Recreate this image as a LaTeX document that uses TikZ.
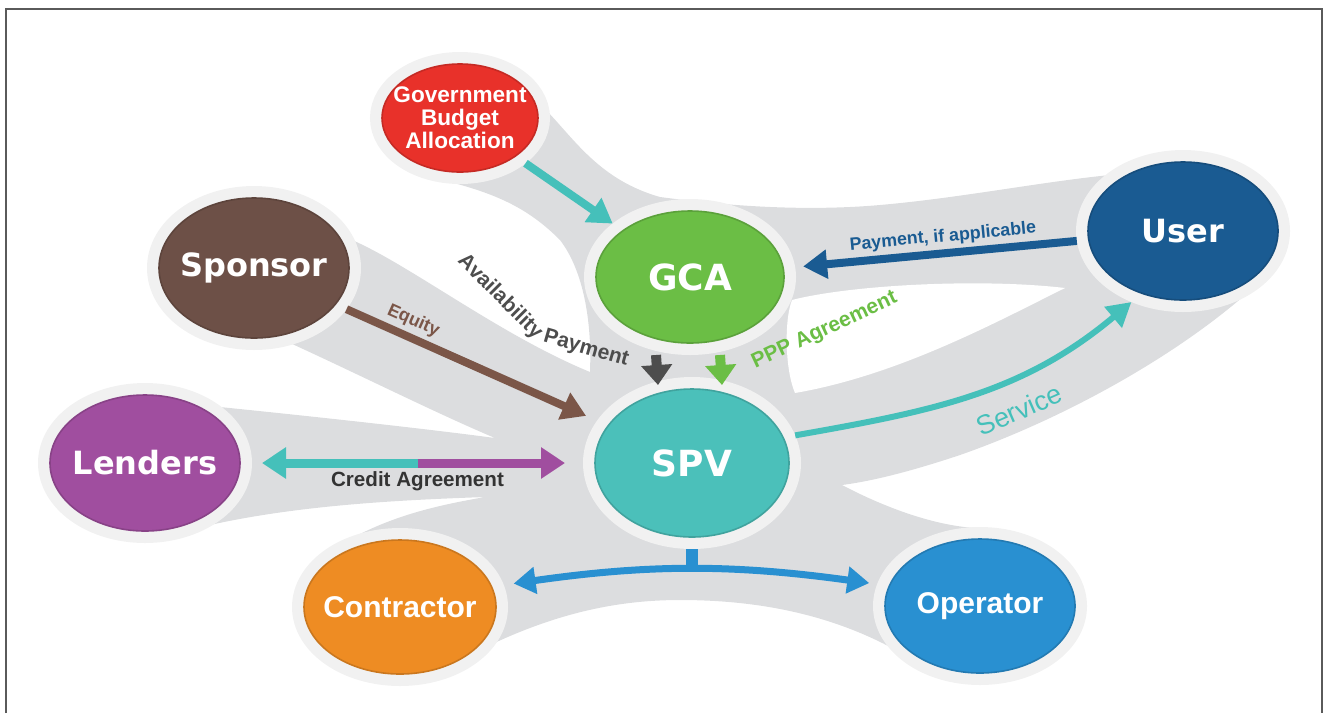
\documentclass[tikz,border=0pt]{standalone}
\usepackage{fontspec}
\usepackage{tikz}
\usetikzlibrary{positioning, calc, shapes.geometric, arrows.meta}
\newfontfamily\wideface{DejaVu Sans}
\newfontfamily\narrowface{Liberation Sans}

\definecolor{bandgray}{HTML}{DCDDDF}
\definecolor{halogray}{HTML}{F1F1F1}
\definecolor{framegray}{HTML}{5A5A5A}
\definecolor{govred}{HTML}{E8312A}
\definecolor{gcagreen}{HTML}{6BBE45}
\definecolor{sponsorbrown}{HTML}{6D5047}
\definecolor{userblue}{HTML}{1A5B92}
\definecolor{spvteal}{HTML}{4BC0BA}
\definecolor{lenderpurple}{HTML}{A04E9F}
\definecolor{contractororange}{HTML}{EE8C23}
\definecolor{operatorblue}{HTML}{2990D1}
\definecolor{flowteal}{HTML}{45C0BA}
\definecolor{equitybrown}{HTML}{7B5648}
\definecolor{availgray}{HTML}{4D4D4D}
\definecolor{labelgray}{HTML}{333333}

\tikzset{
    party/.style={ellipse, fill=#1, draw=#1!85!black, line width=0.8pt,
        preaction={draw=halogray, line width=12pt},
        outer sep=6pt, inner xsep=-10pt, inner ysep=0pt, text=white, align=center},
    bigname/.style={font=\wideface\bfseries\fontsize{16}{18}\selectfont},
    hubname/.style={font=\wideface\bfseries\fontsize{18}{20}\selectfont},
    narrowname/.style={font=\narrowface\bfseries\fontsize{15}{17}\selectfont},
    govname/.style={font=\narrowface\bfseries\fontsize{11.3}{11.6}\selectfont},
    flow/.style={line width=4pt, -{Triangle[length=12pt, width=14pt]}},
    dropflow/.style={line width=5pt, -{Triangle[length=10pt, width=15pt]}},
    serviceflow/.style={line width=3pt, flowteal, -{Triangle[length=12pt, width=13pt]}},
    bothflow/.style={line width=3.5pt, operatorblue,
        {Triangle[length=11pt, width=13pt]}-{Triangle[length=11pt, width=13pt]}},
    creditflow/.style={line width=4.5pt},
    smalltext/.style={font=\narrowface\bfseries\fontsize{#1}{#1}\selectfont, inner sep=1pt},
}

\begin{document}
\begin{tikzpicture}[x=0.5pt, y=-0.5pt]
\useasboundingbox (0,0) rectangle (1325,713);

\fill[bandgray] (400,607) -- (340,545)
    .. controls (390,515) and (440,505) .. (485,497)
    .. controls (400,500) and (300,505) .. (210,525)
    -- (145,463) -- (200,405)
    .. controls (300,415) and (420,428) .. (495,438)
    .. controls (440,415) and (360,375) .. (290,343)
    -- (254,268) -- (352,240)
    .. controls (410,265) and (500,335) .. (590,372)
    .. controls (592,320) and (583,270) .. (560,240)
    .. controls (530,210) and (500,195) .. (450,182)
    -- (460,118) -- (546,110)
    .. controls (575,140) and (600,180) .. (660,197)
    .. controls (720,205) and (800,212) .. (880,205)
    .. controls (960,198) and (1040,182) .. (1110,175)
    -- (1183,231) -- (1245,295)
    .. controls (1170,360) and (1060,420) .. (960,455)
    .. controls (900,475) and (865,482) .. (842,485)
    .. controls (880,505) and (930,525) .. (975,528)
    -- (980,606) -- (892,648)
    .. controls (830,615) and (760,600) .. (680,600)
    .. controls (620,600) and (560,612) .. (490,645)
    -- cycle;
\fill[white] (792,300) .. controls (850,285) and (980,278) .. (1065,288)
    .. controls (1000,320) and (900,375) .. (795,393)
    .. controls (785,370) and (784,320) .. (792,300) -- cycle;

\node[party=govred, minimum width=78pt, minimum height=54pt, govname] (gov) at (460,118) {Government\\Budget\\Allocation};
\node[party=gcagreen, minimum width=94pt, minimum height=66pt, hubname] (gca) at (690,277) {GCA};
\node[party=sponsorbrown, minimum width=95pt, minimum height=70pt, bigname] (sponsor) at (254,268) {Sponsor};
\node[party=userblue, minimum width=95pt, minimum height=69pt, bigname] (user) at (1183,231) {User};
\node[party=spvteal, minimum width=97pt, minimum height=74pt, hubname] (spv) at (692,463) {SPV};
\node[party=lenderpurple, minimum width=95pt, minimum height=68pt, bigname] (lenders) at (145,463) {Lenders};
\node[party=contractororange, minimum width=96pt, minimum height=67pt, narrowname] (contractor) at (400,607) {Contractor};
\node[party=operatorblue, minimum width=95pt, minimum height=67pt, narrowname] (operator) at (980,606) {Operator};

\draw[flow, flowteal] (gov) -- (gca);
\draw[flow, userblue, shorten >=4pt] (user) -- (gca)
    node[pos=0.47, above=1pt, sloped, smalltext=8.9, text=userblue] (paylbl) {Payment, if applicable};
\draw[flow, equitybrown, shorten >=6pt] (sponsor) -- (spv)
    node[pos=0.24, above=1pt, sloped, smalltext=9, text=equitybrown] (equitylbl) {Equity};
\draw[dropflow, availgray] ([xshift=-17pt]gca.south) -- ([xshift=-17pt, yshift=-4pt]spv.north);
\draw[dropflow, gcagreen] ([xshift=15pt]gca.south) -- ([xshift=15pt, yshift=-4pt]spv.north)
    node[pos=0.55, anchor=base west, xshift=14pt, rotate=25, smalltext=10.5, text=gcagreen] (ppplbl) {PPP Agreement};
\node[smalltext=10.5, text=availgray, rotate=-45] (availlbl) at (500,297) {Availability};
\node[smalltext=10.5, text=availgray, rotate=-16] (paymentlbl) at (586,349) {Payment};
\draw[serviceflow] (spv.15) to[out=10, in=220]
    node[pos=0.6, below=6pt, sloped, font=\narrowface\fontsize{13.5}{15}\selectfont, text=flowteal] (servicelbl) {Service}
    (user.234);

\coordinate (credmid) at ($(lenders.east)!0.5!(spv.west)$);
\draw[creditflow, flowteal, {Triangle[length=12pt, width=15pt]}-, shorten <=5pt] (lenders.east) -- (credmid);
\draw[creditflow, lenderpurple, -{Triangle[length=12pt, width=15pt]}, shorten >=9pt] (credmid) -- (spv.west);
\node[smalltext=10.3, text=labelgray, below=3pt of credmid] (creditlbl) {Credit Agreement};

\draw[bothflow, shorten <=5pt, shorten >=4pt] (contractor.12) to[bend left=8] coordinate[pos=0.5] (opsplit) (operator.168);
\draw[line width=6pt, operatorblue] (spv.south) -- (spv.south |- opsplit);

\draw[framegray, line width=1pt] (6,713) -- (6,9) -- (1322,9) -- (1322,713);
\end{tikzpicture}
\end{document}
